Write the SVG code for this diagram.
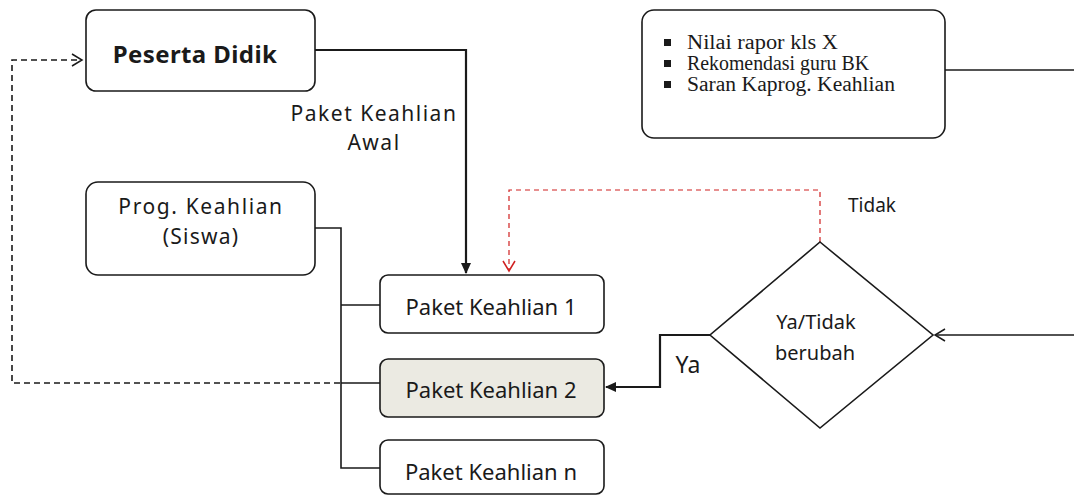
<svg xmlns="http://www.w3.org/2000/svg" width="1074" height="495" viewBox="0 0 1074 495">
<defs>
<style>
.box{fill:#fff;stroke:#1a1a1a;stroke-width:1.6}
.t{font-family:"Noto Sans","Liberation Sans",sans-serif;fill:#1a1a1a;text-anchor:middle}
.s{font-family:"Liberation Serif","Times New Roman",serif;fill:#1a1a1a;font-size:20px}
.ln{fill:none;stroke:#1a1a1a;stroke-width:1.6}
.thick{stroke-width:2.2}
.dash{stroke-dasharray:6,4}
.red{stroke:#d02020;stroke-width:1.2;stroke-dasharray:5,4}
</style>
<marker id="fa" markerWidth="12" markerHeight="12" refX="10" refY="6" orient="auto" markerUnits="userSpaceOnUse"><path d="M0,1 L11,6 L0,11 Z" fill="#1a1a1a"/></marker>
<marker id="oa" markerWidth="14" markerHeight="14" refX="11" refY="7" orient="auto" markerUnits="userSpaceOnUse"><path d="M1,1 L11,7 L1,13" fill="none" stroke="#1a1a1a" stroke-width="1.5"/></marker>
<marker id="ra" markerWidth="14" markerHeight="14" refX="11" refY="7" orient="auto" markerUnits="userSpaceOnUse"><path d="M1,1 L11,7 L1,13" fill="none" stroke="#d02020" stroke-width="1.5"/></marker>
</defs>
<rect width="1074" height="495" fill="#fff"/>
<g id="connectors">
<path class="ln thick" d="M315,50 H466 V273" marker-end="url(#fa)"/>
<path class="ln" d="M315,228 H341 V468 H380 M341,305 H380 M341,383 H380"/>
<path class="ln dash" d="M340,383 H12 V60 H82" marker-end="url(#oa)"/>
<path class="ln red" d="M820,242 V190 H509 V271" marker-end="url(#ra)"/>
<path class="ln thick" d="M710,335 H660 V387 H606" marker-end="url(#fa)"/>
<path class="ln" d="M1074,335 H935" marker-end="url(#oa)"/>
<path class="ln" d="M945,70 H1074"/>
</g>
<g id="peserta-didik">
<rect class="box" x="86" y="10" width="229" height="81" rx="10"/>
<text class="t" x="195" y="63" font-size="24" font-weight="bold" letter-spacing="0.4">Peserta Didik</text>
</g>
<g id="label-awal">
<text class="t" x="374" y="121" font-size="21" letter-spacing="1.5">Paket Keahlian</text>
<text class="t" x="374" y="150" font-size="21" letter-spacing="1.5">Awal</text>
</g>
<g id="kriteria">
<rect class="box" x="642" y="10" width="303" height="128" rx="12"/>
<rect x="664" y="39" width="7" height="7" fill="#1a1a1a"/>
<rect x="664" y="60" width="7" height="7" fill="#1a1a1a"/>
<rect x="664" y="81" width="7" height="7" fill="#1a1a1a"/>
<text class="s" x="687" y="49" textLength="151" lengthAdjust="spacingAndGlyphs">Nilai rapor kls X</text>
<text class="s" x="687" y="70" textLength="182" lengthAdjust="spacingAndGlyphs">Rekomendasi guru BK</text>
<text class="s" x="687" y="91" textLength="208" lengthAdjust="spacingAndGlyphs">Saran Kaprog. Keahlian</text>
</g>
<g id="prog-keahlian">
<rect class="box" x="86" y="182" width="229" height="93" rx="12"/>
<text class="t" x="201" y="214" font-size="21" letter-spacing="1.6">Prog. Keahlian</text>
<text class="t" x="201" y="244" font-size="21" letter-spacing="1.2">(Siswa)</text>
</g>
<g id="label-tidak">
<text class="t" x="872" y="212" font-size="19">Tidak</text>
</g>
<g id="paket-1">
<rect class="box" x="380" y="275" width="224" height="58" rx="8"/>
<text class="t" x="491" y="315" font-size="22">Paket Keahlian 1</text>
</g>
<g id="paket-2">
<rect class="box" x="380" y="359" width="224" height="58" rx="8" style="fill:#ebeae2"/>
<text class="t" x="491" y="398" font-size="22">Paket Keahlian 2</text>
</g>
<g id="paket-n">
<rect class="box" x="380" y="440" width="224" height="54" rx="8"/>
<text class="t" x="491" y="480" font-size="22">Paket Keahlian n</text>
</g>
<g id="keputusan">
<path class="box" d="M820,242 L933,335 L820,428 L710,335 Z"/>
<text class="t" x="816" y="329" font-size="20">Ya/Tidak</text>
<text class="t" x="815" y="360" font-size="20">berubah</text>
</g>
<g id="label-ya">
<text class="t" x="688" y="373" font-size="23">Ya</text>
</g>
</svg>
